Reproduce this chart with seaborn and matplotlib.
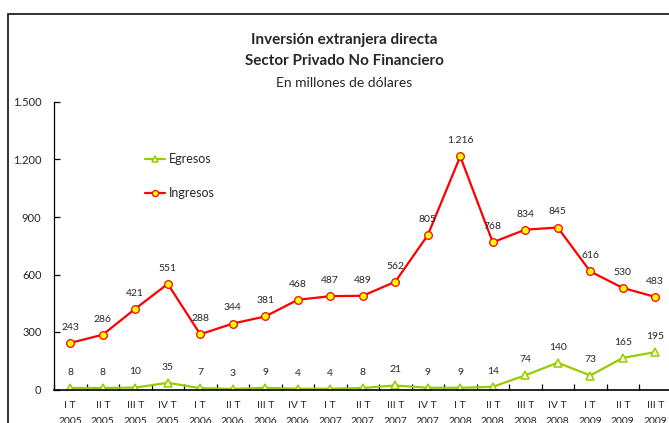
import matplotlib
matplotlib.use("Agg")
import matplotlib.pyplot as plt
from matplotlib.patches import Rectangle
from matplotlib.ticker import FuncFormatter, FixedLocator
import numpy as np
import pandas as pd
import seaborn as sns

# Datos del grafico (millones de dolares)
trimestres = ["I T\n2005", "II T\n2005", "III T\n2005", "IV T\n2005",
              "I T\n2006", "II T\n2006", "III T\n2006", "IV T\n2006",
              "I T\n2007", "II T\n2007", "III T\n2007", "IV T\n2007",
              "I T\n2008", "II T\n2008", "III T\n2008", "IV T\n2008",
              "I T\n2009", "II T\n2009", "III T\n2009"]
ingresos = [243, 286, 421, 551, 288, 344, 381, 468, 487, 489, 562, 805,
            1216, 768, 834, 845, 616, 530, 483]
egresos = [8, 8, 10, 35, 7, 3, 9, 4, 4, 8, 21, 9, 9, 14, 74, 140, 73, 165, 195]

sns.set_style("white")
plt.rcParams["font.family"] = ["Lato", "DejaVu Sans"]

df = pd.DataFrame({"pos": np.arange(len(trimestres)),
                   "Ingresos": ingresos, "Egresos": egresos})

fig = plt.figure(figsize=(6.69, 4.23), dpi=100)
ax = fig.add_axes([54 / 669, 33.5 / 423, 617.5 / 669, 287.5 / 423])

# Egresos primero para el orden de la leyenda
sns.lineplot(data=df, x="pos", y="Egresos", ax=ax, color="#99CC00", lw=1.6,
             marker="^", markersize=5.5, markerfacecolor="#F4FFE0",
             markeredgecolor="#99CC00", markeredgewidth=1.1, label="Egresos")
sns.lineplot(data=df, x="pos", y="Ingresos", ax=ax, color="#FF0000", lw=1.6,
             marker="o", markersize=5.5, markerfacecolor="#FFFF00",
             markeredgecolor="#FF0000", markeredgewidth=0.9, label="Ingresos")

# Etiquetas de datos
for i in range(len(trimestres)):
    ax.annotate(f"{ingresos[i]:,}".replace(",", "."), (i, ingresos[i]),
                xytext=(0, 8), textcoords="offset points", ha="center",
                va="bottom", fontsize=7.5)
    ax.annotate(f"{egresos[i]}", (i, egresos[i]), xytext=(0, 8),
                textcoords="offset points", ha="center", va="bottom",
                fontsize=7.5)

ax.set_xlim(-0.5, len(trimestres) - 0.5)
ax.set_ylim(0, 1500)
ax.set_yticks([0, 300, 600, 900, 1200, 1500])
ax.yaxis.set_major_formatter(FuncFormatter(lambda v, p: f"{int(v):,}".replace(",", ".")))
ax.set_xticks(np.arange(len(trimestres)))
ax.set_xticklabels(trimestres, linespacing=2.0)
ax.xaxis.set_minor_locator(FixedLocator(np.arange(-0.5, len(trimestres), 1)))
ax.tick_params(axis="x", which="major", length=0, pad=8, labelsize=7.5)
ax.tick_params(axis="x", which="minor", direction="in", length=4, width=0.9,
               color="black", bottom=True)
ax.tick_params(axis="y", direction="in", length=4, width=0.9, color="black",
               pad=9, labelsize=8, left=True)

ax.set_xlabel("")
ax.set_ylabel("")
for s in ["top", "right"]:
    ax.spines[s].set_visible(False)
ax.spines["left"].set_color("black")
ax.spines["left"].set_linewidth(0.9)
ax.spines["bottom"].set_color("black")
ax.spines["bottom"].set_linewidth(1.2)

leg = ax.legend(loc="upper left", bbox_to_anchor=(80 / 617.5, 1 - 40 / 287.5),
                frameon=False, fontsize=9, handlelength=1.6, markerscale=0.8,
                labelspacing=1.75, handletextpad=0.3)

# Titulos
fig.text(0.515, 1 - 40 / 423, "Inversión extranjera directa", ha="center",
         va="center", fontsize=11, fontweight="bold")
fig.text(0.515, 1 - 61 / 423, "Sector Privado No Financiero", ha="center",
         va="center", fontsize=11, fontweight="bold")
fig.text(0.515, 1 - 83 / 423, "En millones de dólares", ha="center",
         va="center", fontsize=10)

# Marco exterior
fig.patches.append(Rectangle((8 / 669, -0.1), 1.2, 1 - 14 / 423 + 0.1,
                             transform=fig.transFigure, fill=False,
                             edgecolor="#222222", lw=1.3))

fig.savefig("out.png", dpi=100)
